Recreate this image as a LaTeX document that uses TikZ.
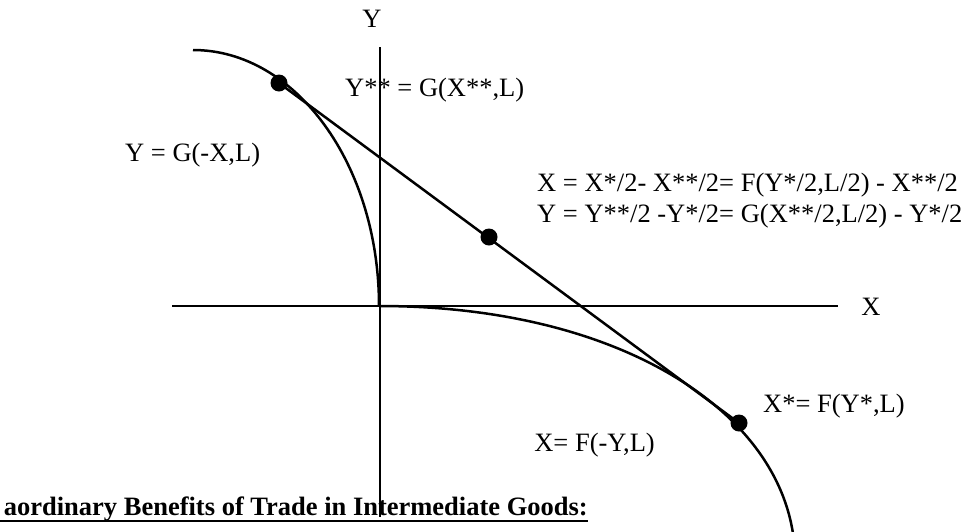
\documentclass[tikz,border=0pt]{standalone}
\usepackage{fontspec}
\setmainfont{Liberation Serif}
\begin{document}
\begin{tikzpicture}[x=1pt,y=-1pt,
  lbl/.style={inner sep=0pt,font=\fontsize{26.5}{30}\selectfont},
  blbl/.style={inner sep=0pt,font=\fontsize{26.5}{30}\selectfont\bfseries},
  axis/.style={line width=2pt},
  curve/.style={line width=2.5pt},
  dot/.style={circle,fill=black,inner sep=0pt,minimum size=17pt}]
\useasboundingbox (0,0) rectangle (969,531);
\clip (0,0) rectangle (969,531);
% axes
\coordinate (xl) at (172,306);
\coordinate (xr) at (838,306);
\coordinate (yt) at (380,47);
\coordinate (yb) at (380,517);
\coordinate (o) at (379,306);
\draw[axis] (xl) -- (xr);
\draw[axis] (yt) -- (yb);
% curves
\coordinate (gs) at (193,50);
\coordinate (fe) at (795,560);
\draw[curve] (gs) .. controls (296,50) and (379,165) .. (o);
\draw[curve] (o) .. controls (629,306) and (795,420) .. (fe);
% dots
\node[dot] (d1) at (279,83) {};
\node[dot] (d2) at (489,237) {};
\node[dot] (d3) at (739,423) {};
\draw[curve] (d1.center) -- (d3.center);
% labels
\node[lbl,anchor=base] (ylab) at (372,27) {Y};
\node[lbl,anchor=base] (xlab) at (871,315) {X};
\node[lbl,anchor=base west] (yss) at (345,96) {Y** = G(X**,L)};
\node[lbl,anchor=base west] (ygx) at (125,161) {Y = G(-X,L)};
\node[lbl,anchor=base west] (eq1) at (537,191) {X = X*/2- X**/2= F(Y*/2,L/2) - X**/2};
\node[lbl,anchor=base west] (eq2) at (537,222) {Y = Y**/2 -Y*/2= G(X**/2,L/2) - Y*/2};
\node[lbl,anchor=base west] (xs) at (763,412) {X*= F(Y*,L)};
\node[lbl,anchor=base east] (xfy) at (655,451) {X= F(-Y,L)};
\node[blbl,anchor=base east] (title) at (588,515) {aordinary Benefits of Trade in Intermediate Goods:};
\coordinate (ul) at (0,521);
\coordinate (ur) at (588,521);
\draw[line width=2pt] (ul) -- (ur);
\end{tikzpicture}
\end{document}
